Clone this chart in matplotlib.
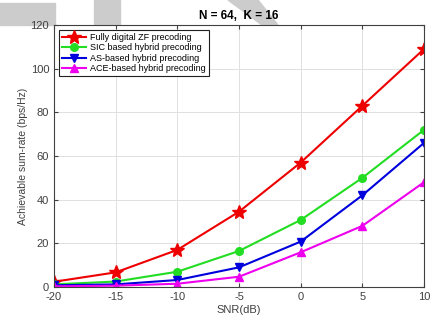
import matplotlib
matplotlib.use('Agg')
import matplotlib.pyplot as plt
from matplotlib.patches import Polygon, Rectangle

plt.rcParams['font.family'] = ['Liberation Sans', 'DejaVu Sans']
plt.rcParams['axes.unicode_minus'] = False

snr = [-20, -15, -10, -5, 0, 5, 10]
zf = [2.4, 6.7, 17, 34.5, 57, 83, 109]
sic = [1.2, 2.5, 7, 16.5, 30.7, 50, 72]
as_hp = [0.8, 1.2, 3.2, 9, 20.8, 42, 66]
ace = [0.3, 0.6, 1.5, 4.7, 15.9, 28, 48]

labels = ['Fully digital ZF precoding', 'SIC based hybrid precoding',
          'AS-based hybrid precoding', 'ACE-based hybrid precoding']

fig = plt.figure(figsize=(4.31, 3.24), dpi=100)
ax = fig.add_axes([0.1253, 0.1142, 0.8585, 0.8086])

ax.plot(snr, zf, '-*', color='#ee0000', lw=1.5, ms=10, label=labels[0])
ax.plot(snr, sic, '-o', color='#22dd22', lw=1.5, ms=5.5, label=labels[1])
ax.plot(snr, as_hp, '-v', color='#0000dd', lw=1.5, ms=6, label=labels[2])
ax.plot(snr, ace, '-^', color='#ee00ee', lw=1.5, ms=6, label=labels[3])

ax.set_xlim(-20, 10)
ax.set_ylim(0, 120)
ax.set_xticks(snr)
ax.set_yticks(range(0, 121, 20))
ax.grid(True, color='#e0e0e0', lw=0.7)
ax.tick_params(direction='in', top=True, right=True, labelsize=8,
               colors='#404040', length=3)
for s in ax.spines.values():
    s.set_color('#404040')
    s.set_linewidth(0.8)

ax.set_xlabel('SNR(dB)', fontsize=8, color='#404040', labelpad=2)
ax.set_ylabel('Achievable sum-rate (bps/Hz)', fontsize=7.5, color='#404040', labelpad=2)
ax.set_title('N = 64,  K = 16', fontsize=8.5, fontweight='bold', pad=4)

leg = ax.legend(loc='upper left', fontsize=6.5, fancybox=False, framealpha=1,
                edgecolor='#202020', borderpad=0.3, labelspacing=0.15,
                handlelength=2.6, handletextpad=0.5, borderaxespad=0.6)
leg.get_frame().set_linewidth(0.8)

# grey overlay blocks at the top of the picture
grey = dict(transform=fig.transFigure, color='#cccccc', zorder=-1)
fig.patches.append(Rectangle((0, 1 - 25 / 324), 55 / 431, 22 / 324, **grey))
fig.patches.append(Rectangle((94 / 431, 1 - 25 / 324), 26 / 431, 25 / 324, **grey))
fig.patches.append(Polygon([(228 / 431, 1), (258 / 431, 1), (278 / 431, 1 - 25 / 324),
                            (262 / 431, 1 - 25 / 324)], **grey))

fig.savefig('out.png', dpi=100)
